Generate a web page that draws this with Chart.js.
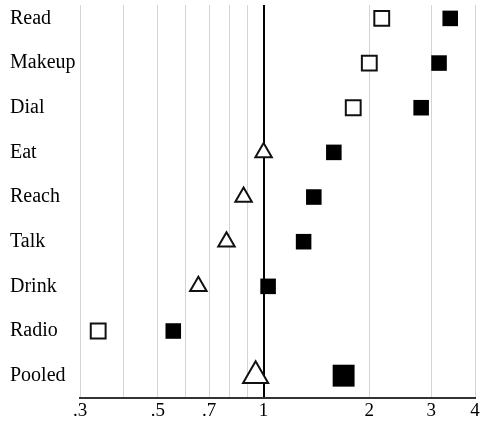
<!DOCTYPE html>
<html>
<head>
<meta charset="utf-8">
<script src="https://cdn.jsdelivr.net/npm/chart.js@4.4.1/dist/chart.umd.min.js"></script>
<style>
  html, body { margin: 0; padding: 0; background: #fff; }
  #wrap { width: 480px; height: 422px; }
</style>
</head>
<body>
<div id="wrap"><canvas id="chart"></canvas></div>
<script>
// categories, top to bottom
const categories = ['Read', 'Makeup', 'Dial', 'Eat', 'Reach', 'Talk', 'Drink', 'Radio', 'Pooled'];
// open markers (squares / triangles)
const openValues = [2.17, 2.0, 1.80, 1.0, 0.877, 0.784, 0.652, 0.338, 0.949];
// filled squares
const filledValues = [3.40, 3.16, 2.81, 1.585, 1.39, 1.30, 1.03, 0.553, 1.69];
// x axis
const gridValues = [0.3, 0.4, 0.5, 0.6, 0.7, 0.8, 0.9, 1, 2, 3, 4];
const tickLabels = { 0.3: '.3', 0.5: '.5', 0.7: '.7', 1: '1', 2: '2', 3: '3', 4: '4' };

// marker styles (per row)
const openShapes = ['rect', 'rect', 'rect', 'triangle', 'triangle', 'triangle', 'triangle', 'rect', 'triangle'];

const serif = "'Liberation Serif', 'Times New Roman', serif";

function openRadius(i) {
    if (categories[i] === 'Pooled') return 14.5;
    return openShapes[i] === 'rect' ? 10.5 : 9.5;
}

const ctx = document.getElementById('chart').getContext('2d');
new Chart(ctx, {
    type: 'scatter',
    data: {
        datasets: [{
            label: 'filled',
            data: filledValues.map((v, i) => ({ x: v, y: i })),
            pointStyle: 'rect',
            pointRadius: filledValues.map((v, i) => categories[i] === 'Pooled' ? 15.5 : 11),
            backgroundColor: '#000',
            borderColor: '#000',
            borderWidth: 0,
            clip: false
        }, {
            label: 'open',
            data: openValues.map((v, i) => ({ x: v, y: i })),
            pointStyle: openShapes,
            pointRadius: openValues.map((v, i) => openRadius(i)),
            backgroundColor: '#fff',
            borderColor: '#111',
            borderWidth: 2,
            clip: false
        }]
    },
    options: {
        responsive: true,
        maintainAspectRatio: false,
        animation: false,
        layout: { autoPadding: false, padding: { top: 5, right: 5, left: 10, bottom: 0 } },
        plugins: {
            legend: { display: false },
            tooltip: { enabled: false }
        },
        scales: {
            x: {
                type: 'logarithmic',
                min: 0.3,
                max: 4,
                afterBuildTicks: axis => {
                    axis.ticks = gridValues.map(v => ({ value: v }));
                },
                afterFit: axis => {
                    axis.height = 24;
                    axis.paddingLeft = 0;
                    axis.paddingRight = 0;
                },
                ticks: {
                    autoSkip: false,
                    maxRotation: 0,
                    padding: 2,
                    color: '#000',
                    font: { family: serif, size: 19 },
                    callback: v => tickLabels[v] || ''
                },
                grid: {
                    drawTicks: false,
                    color: c => c.tick && c.tick.value === 1 ? '#000' : '#d4d4d4',
                    lineWidth: c => c.tick && c.tick.value === 1 ? 2 : 1
                },
                border: { display: true, color: '#333', width: 2 }
            },
            y: {
                type: 'linear',
                reverse: true,
                min: -0.3,
                max: 8.5,
                afterBuildTicks: axis => {
                    axis.ticks = categories.map((c, i) => ({ value: i }));
                },
                afterFit: axis => {
                    axis.width = 70;
                    axis.paddingTop = 0;
                    axis.paddingBottom = 0;
                },
                ticks: {
                    autoSkip: false,
                    crossAlign: 'far',
                    color: '#000',
                    font: { family: serif, size: 20 },
                    callback: v => categories[v]
                },
                grid: { display: false },
                border: { display: false }
            }
        }
    }
});
</script>
</body>
</html>
